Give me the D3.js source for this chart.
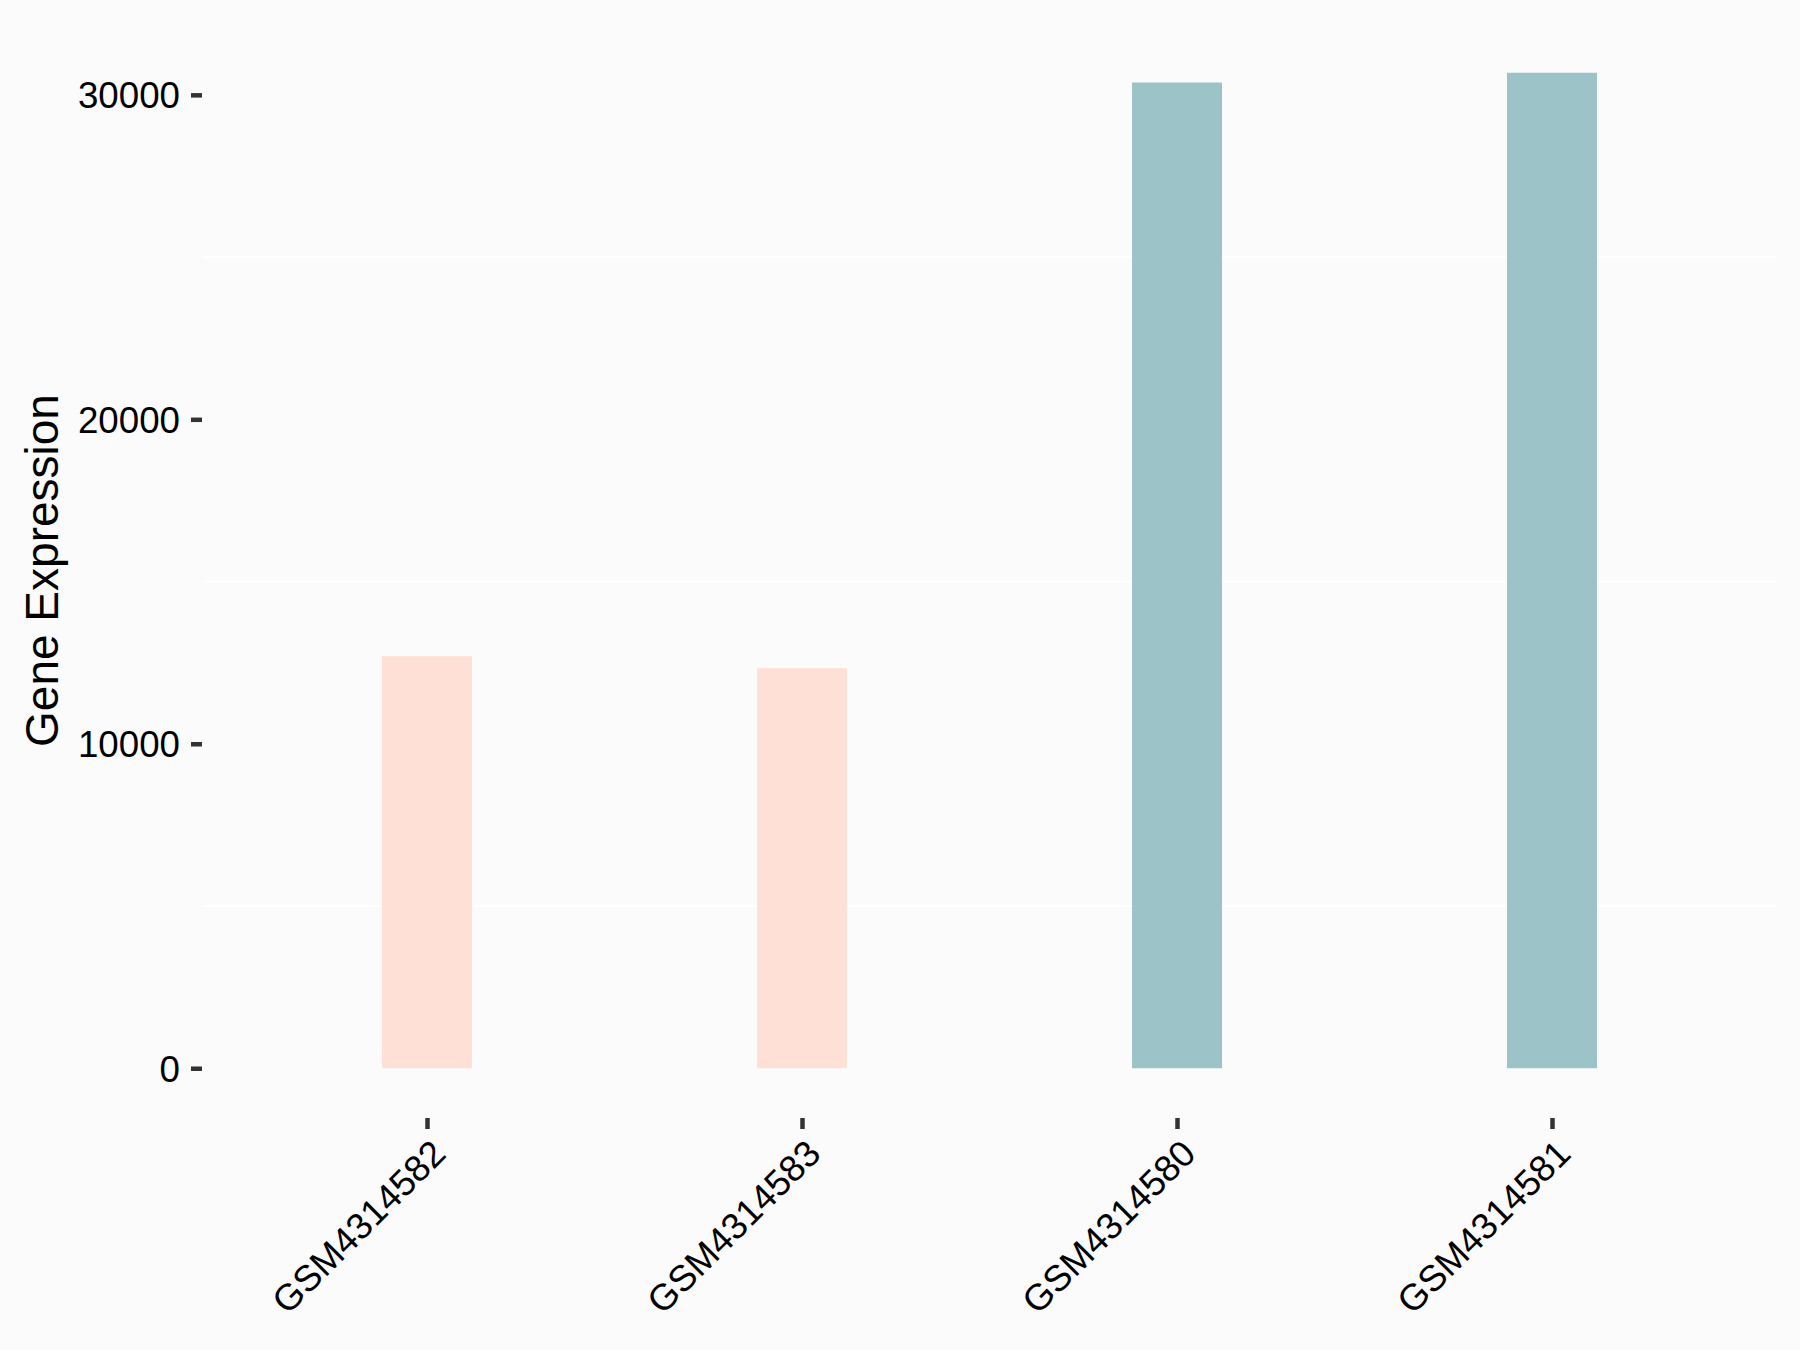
<!DOCTYPE html>
<html><head><meta charset="utf-8">
<script src="https://cdn.jsdelivr.net/npm/d3@7"></script>
<style>html,body{margin:0;padding:0;background:#FBFBFB;}svg{display:block;}</style>
</head><body>
<svg id="chart" width="1800" height="1350"></svg>
<script>
const categories = ["GSM4314582", "GSM4314583", "GSM4314580", "GSM4314581"];
const values = [12700, 12330, 30380, 30680];
const groups = ["A", "A", "B", "B"];
const yTicks = [0, 10000, 20000, 30000];
const yMinor = [5000, 15000, 25000];
const groupColors = {A: "#FEE0D6", B: "#9CC3C7"};

(function () {
const svg = d3.select("#chart");
const W = 1800, H = 1350;
svg.append("rect").attr("width", W).attr("height", H).attr("fill", "#FBFBFB");

const pLeft = 202, pRight = 1777, pTop = 23, pBottom = 1118;
const ymax = d3.max(values), pad = ymax * 0.05;
const x = d3.scalePoint().domain(categories).range([pLeft, pRight]).padding(0.6);
const y = d3.scaleLinear().domain([-pad, ymax + pad]).range([pBottom, pTop]);
const bw = x.step() * 0.24;

// minor grid
svg.append("g").selectAll("line").data(yMinor).join("line")
  .attr("x1", pLeft).attr("x2", pRight)
  .attr("y1", d => y(d)).attr("y2", d => y(d))
  .attr("stroke", "#FFFFFF").attr("stroke-width", 2);

// bars
svg.append("g").selectAll("rect").data(categories).join("rect")
  .attr("x", d => x(d) - bw / 2)
  .attr("width", bw)
  .attr("y", (d, i) => y(values[i]))
  .attr("height", (d, i) => y(0) - y(values[i]))
  .attr("fill", (d, i) => groupColors[groups[i]]);

// y axis
const ya = svg.append("g").attr("transform", `translate(${pLeft},0)`)
  .call(d3.axisLeft(y).tickValues(yTicks).tickSize(11).tickPadding(11).tickFormat(d3.format("d")));
ya.select(".domain").remove();
ya.selectAll(".tick line").attr("stroke", "#333333").attr("stroke-width", 4.5);
ya.selectAll(".tick text").attr("font-family", "Liberation Sans, Arial, sans-serif")
  .attr("font-size", 36.7).attr("fill", "#000").attr("dy", "0.35em");

// x axis
const xa = svg.append("g").attr("transform", `translate(0,${pBottom})`)
  .call(d3.axisBottom(x).tickSize(11).tickFormat(""));
xa.select(".domain").remove();
xa.selectAll(".tick line").attr("stroke", "#333333").attr("stroke-width", 4.5);

svg.append("g").selectAll("text").data(categories).join("text")
  .attr("transform", d => `translate(${x(d) + 2},1137) rotate(-45)`)
  .attr("text-anchor", "end")
  .attr("dy", "0.72em")
  .attr("font-family", "Liberation Sans, Arial, sans-serif")
  .attr("font-size", 36.7).attr("fill", "#000")
  .text(d => d);

// y title
svg.append("text")
  .attr("transform", `translate(58,${(pTop + pBottom) / 2}) rotate(-90)`)
  .attr("text-anchor", "middle")
  .attr("font-family", "Liberation Sans, Arial, sans-serif")
  .attr("font-size", 46).attr("fill", "#000")
  .text("Gene Expression");
})();
</script>
</body></html>
